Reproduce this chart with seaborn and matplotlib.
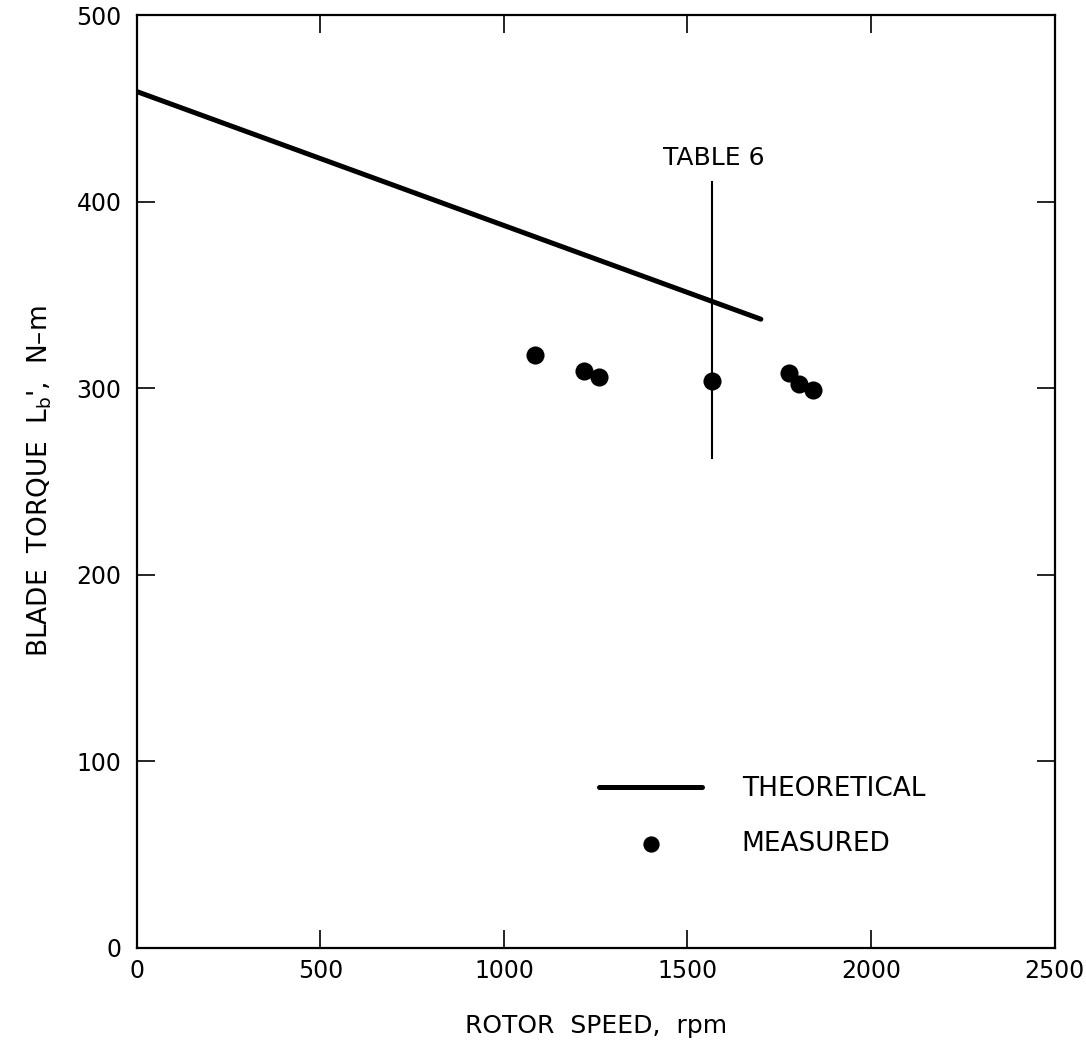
import matplotlib
matplotlib.use("Agg")
import matplotlib.pyplot as plt
import seaborn as sns
import pandas as pd

# Theoretical blade torque vs rotor speed (straight line)
theory_rpm = [0, 1700]
theory_torque = [459, 337]

# Measured blade torque
measured_rpm = [1086, 1219, 1260, 1568, 1778, 1803, 1841]
measured_torque = [318, 309, 306, 304, 308, 302, 299]

# Table 6 reference bar
table6_rpm = 1568
table6_range = [262, 411]

x_ticks = [0, 500, 1000, 1500, 2000, 2500]
y_ticks = [0, 100, 200, 300, 400, 500]

sns.set_theme(style="ticks")
plt.rcParams["font.family"] = ["DejaVu Sans"]
plt.rcParams.update({"text.color": "black", "axes.labelcolor": "black",
                     "xtick.color": "black", "ytick.color": "black"})

fig = plt.figure(figsize=(10.86, 10.47), dpi=100)
ax = fig.add_axes([0.126, 0.0946, 0.845, 0.891])

theory = pd.DataFrame({"rpm": theory_rpm, "torque": theory_torque})
meas = pd.DataFrame({"rpm": measured_rpm, "torque": measured_torque})

sns.lineplot(data=theory, x="rpm", y="torque", ax=ax, color="black",
             linewidth=3.6, label="THEORETICAL")
sns.scatterplot(data=meas, x="rpm", y="torque", ax=ax, color="black",
                s=170, edgecolor="black", linewidth=0, label="MEASURED", zorder=3)

ax.vlines(table6_rpm, table6_range[0], table6_range[1], color="black", linewidth=1.5)
ax.text(table6_rpm + 5, table6_range[1] + 6, "TABLE 6", ha="center", va="bottom",
        fontsize=18)

ax.set_xlim(0, 2500)
ax.set_ylim(0, 500)
ax.set_xticks(x_ticks)
ax.set_yticks(y_ticks)
ax.tick_params(axis="both", which="both", direction="in", length=13, width=1.2,
               top=True, right=True, labelsize=17, color="black", labelcolor="black")
ax.tick_params(axis="x", pad=8)
ax.tick_params(axis="y", pad=11)
for sp in ax.spines.values():
    sp.set_linewidth(1.6)
    sp.set_color("black")

ax.set_xlabel("ROTOR  SPEED,  rpm", fontsize=18, labelpad=22)
ax.set_ylabel(r"BLADE  TORQUE  L$_\mathregular{b}$',  N–m", fontsize=19, labelpad=16)

leg = ax.legend(loc="upper left", bbox_to_anchor=(0.504, 0.184), frameon=False,
                fontsize=19, handlelength=3.9, handletextpad=1.5, labelspacing=1.1,
                borderpad=0, borderaxespad=0, markerscale=0.9)

fig.savefig("out.png", dpi=100, facecolor="white")
